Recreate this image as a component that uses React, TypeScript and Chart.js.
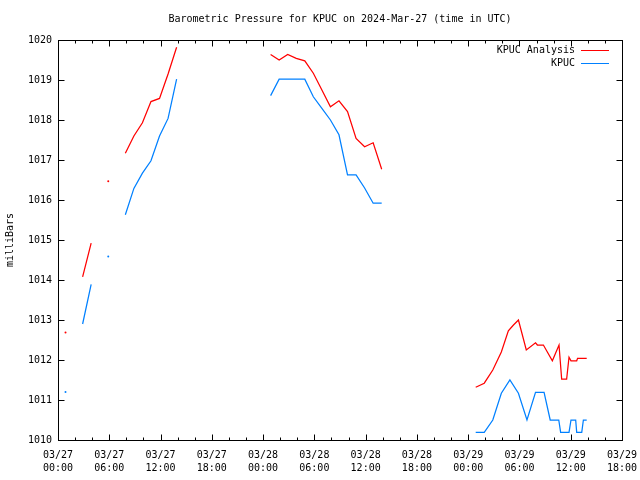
import React, { useEffect, useRef } from "react";
import { Chart, registerables } from "chart.js";

Chart.register(...registerables);

// Hours since 2024-03-27 00:00 UTC; null value = gap in the line
const analysisHours = [
  0.88, 1.5,
  2.88, 3.88, 4.5,
  5.88, 6.5,
  7.88, 8.88, 9.88, 10.88, 11.88, 12.88, 13.88, 19,
  24.88, 25.88, 26.88, 27.88, 28.88, 29.88, 30.88, 31.88, 32.88, 33.88, 34.88, 35.88, 36.88, 37.88, 43,
  48.88, 49.88, 50.88, 51.88, 52.7, 53.3, 53.88, 54.8, 55.88, 56.1, 56.8, 57.85, 58.63, 58.94, 59.52, 59.8, 60.03, 60.7, 60.8, 61.87,
];
const analysisValues = [
  1012.69, null,
  1014.08, 1014.92, null,
  1016.47, null,
  1017.17, 1017.6, 1017.93, 1018.46, 1018.54, 1019.15, 1019.82, null,
  1019.64, 1019.5, 1019.64, 1019.54, 1019.48, 1019.17, 1018.75, 1018.33, 1018.48, 1018.21, 1017.54, 1017.33, 1017.43, 1016.77, null,
  1011.32, 1011.42, 1011.75, 1012.2, 1012.73, 1012.875, 1013.0, 1012.25, 1012.43, 1012.375, 1012.375, 1011.98, 1012.375, 1011.52, 1011.52, 1012.07, 1011.98, 1011.98, 1012.04, 1012.04,
];

const observedHours = [
  0.88, 1.5,
  2.88, 3.88, 4.5,
  5.88, 6.5,
  7.88, 8.88, 9.88, 10.88, 11.88, 12.88, 13.88, 19,
  24.88, 25.88, 26.88, 27.88, 28.88, 29.88, 30.88, 31.88, 32.88, 33.88, 34.88, 35.88, 36.88, 37.88, 43,
  48.88, 49.88, 50.88, 51.88, 52.88, 53.88, 54.88, 55.88, 56.88, 57.6, 58.6, 58.82, 59.8, 60.03, 60.58, 60.7, 61.29, 61.48, 61.87,
];
const observedValues = [
  1011.2, null,
  1012.9, 1013.89, null,
  1014.59, null,
  1015.63, 1016.29, 1016.67, 1016.98, 1017.6, 1018.04, 1019.02, null,
  1018.61, 1019.02, 1019.02, 1019.02, 1019.02, 1018.58, 1018.29, 1018.0, 1017.63, 1016.63, 1016.63, 1016.3, 1015.92, 1015.92, null,
  1010.19, 1010.19, 1010.5, 1011.17, 1011.5, 1011.17, 1010.5, 1011.19, 1011.19, 1010.5, 1010.5, 1010.19, 1010.19, 1010.5, 1010.5, 1010.19, 1010.19, 1010.5, 1010.5,
];

const xTickDates = ["03/27", "03/27", "03/27", "03/27", "03/28", "03/28", "03/28", "03/28", "03/29", "03/29", "03/29", "03/29"];
const xTickTimes = ["00:00", "06:00", "12:00", "18:00", "00:00", "06:00", "12:00", "18:00", "00:00", "06:00", "12:00", "18:00"];
const yMin = 1010;
const yMax = 1020;

const titleText = "Barometric Pressure for KPUC on 2024-Mar-27 (time in UTC)";
const seriesLabels = ["KPUC Analysis", "KPUC"];
const seriesColors = ["#ff0000", "#0080ff"];

const FONT = "'DejaVu Sans Mono', monospace";

function toPoints(hours: number[], values: (number | null)[]) {
  return hours.map((h, i) => ({ x: h, y: values[i] }));
}

function isolatedRadius(ctx: any) {
  const d = ctx.dataset.data;
  const i = ctx.dataIndex;
  if (!d[i] || d[i].y == null) return 0;
  const prev = i > 0 ? d[i - 1].y : null;
  const next = i < d.length - 1 ? d[i + 1].y : null;
  return prev == null && next == null ? 1 : 0;
}

const gnuFrame = {
  id: "gnuFrame",
  afterDatasetsDraw(chart: any) {
    const { ctx, chartArea: a, scales } = chart;
    const L = Math.round(a.left) + 0.5;
    const R = Math.round(a.right) + 0.5;
    const T = Math.round(a.top) + 0.5;
    const B = Math.round(a.bottom) + 0.5;
    ctx.save();
    ctx.strokeStyle = "#000";
    ctx.lineWidth = 1;
    ctx.beginPath();
    // x ticks: major every 6 h, minor every 2 h
    for (let h = 0; h <= 66; h += 2) {
      const px = Math.round(scales.x.getPixelForValue(h)) + 0.5;
      const len = h % 6 === 0 ? 6 : 3;
      ctx.moveTo(px, B);
      ctx.lineTo(px, B - len);
      ctx.moveTo(px, T);
      ctx.lineTo(px, T + len);
    }
    for (let v = yMin; v <= yMax; v += 1) {
      const py = Math.round(scales.y.getPixelForValue(v)) + 0.5;
      ctx.moveTo(L, py);
      ctx.lineTo(L + 6, py);
      ctx.moveTo(R, py);
      ctx.lineTo(R - 6, py);
    }
    ctx.stroke();
    ctx.strokeRect(L, T, R - L, B - T);

    // legend (top right inside plot)
    ctx.font = "10px " + FONT;
    ctx.textAlign = "right";
    ctx.textBaseline = "middle";
    chart.data.datasets.forEach((ds: any, i: number) => {
      const y = Math.round(a.top) + 10 + i * 13;
      ctx.fillStyle = "#000";
      ctx.fillText(ds.label, a.right - 47, y);
      ctx.strokeStyle = ds.borderColor;
      ctx.beginPath();
      ctx.moveTo(a.right - 41, y + 0.5);
      ctx.lineTo(a.right - 13, y + 0.5);
      ctx.stroke();
    });
    ctx.restore();
  },
};

export default function App() {
  const ref = useRef<HTMLCanvasElement | null>(null);
  useEffect(() => {
    if (!ref.current) return;
    const chart = new Chart(ref.current, {
      type: "line",
      data: {
        datasets: [
          {
            label: seriesLabels[0],
            data: toPoints(analysisHours, analysisValues),
            borderColor: seriesColors[0],
            backgroundColor: seriesColors[0],
            borderWidth: 1.25,
            pointRadius: isolatedRadius,
            pointBorderWidth: 0,
            pointHoverRadius: 0,
            tension: 0,
            spanGaps: false,
          },
          {
            label: seriesLabels[1],
            data: toPoints(observedHours, observedValues),
            borderColor: seriesColors[1],
            backgroundColor: seriesColors[1],
            borderWidth: 1.25,
            pointRadius: isolatedRadius,
            pointBorderWidth: 0,
            pointHoverRadius: 0,
            tension: 0,
            spanGaps: false,
          },
        ],
      },
      options: {
        animation: false,
        responsive: false,
        events: [],
        layout: { padding: { left: 0, right: 18, top: 0, bottom: 0 } },
        plugins: {
          legend: { display: false },
          tooltip: { enabled: false },
          title: {
            display: true,
            text: titleText,
            fullSize: false,
            color: "#000",
            font: { family: FONT, size: 10, weight: "normal", lineHeight: 1.2 },
            padding: { top: 13, bottom: 15 },
          },
        },
        scales: {
          x: {
            type: "linear",
            min: 0,
            max: 66,
            afterFit: (s: any) => {
              s.height = 40;
              s.paddingLeft = 0;
              s.paddingRight = 0;
            },
            grid: { display: false, drawTicks: false },
            border: { display: false },
            ticks: {
              stepSize: 6,
              autoSkip: false,
              maxRotation: 0,
              padding: 9,
              color: "#000",
              font: { family: FONT, size: 10, lineHeight: 1.3 },
              callback: (v: any) => {
                const i = Math.round(Number(v) / 6);
                return [xTickDates[i], xTickTimes[i]];
              },
            },
          },
          y: {
            type: "linear",
            min: yMin,
            max: yMax,
            afterFit: (s: any) => {
              s.width = 58;
            },
            grid: { display: false, drawTicks: false },
            border: { display: false },
            title: {
              display: true,
              text: "milliBars",
              color: "#000",
              font: { family: FONT, size: 10, lineHeight: 1.2 },
              padding: { top: 4, bottom: 0 },
            },
            ticks: {
              stepSize: 1,
              padding: 6,
              color: "#000",
              font: { family: FONT, size: 10 },
              callback: (v: any) => String(v),
            },
          },
        },
      },
      plugins: [gnuFrame],
    } as any);
    return () => chart.destroy();
  }, []);
  return (
    <div style={{ position: "absolute", left: 0, top: 0, width: 640, height: 480, background: "#fff" }}>
      <canvas ref={ref} width={640} height={480} />
    </div>
  );
}
